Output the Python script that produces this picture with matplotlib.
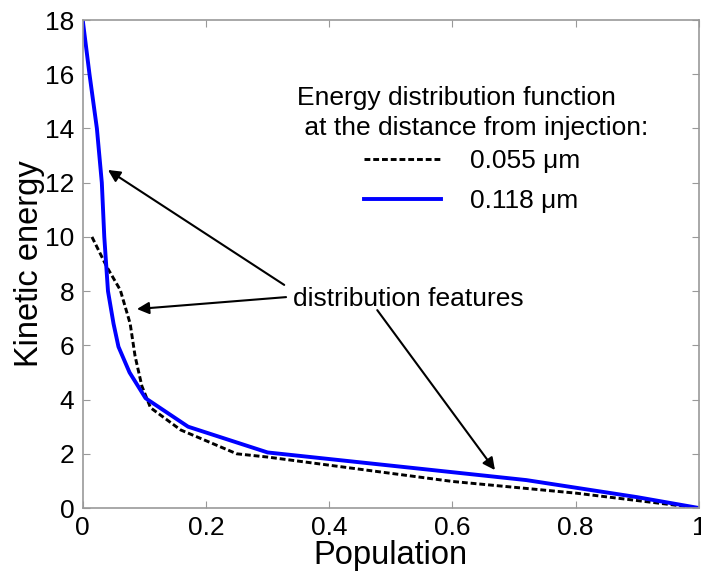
import matplotlib
matplotlib.use("Agg")
import matplotlib.pyplot as plt

plt.rcParams['font.family'] = ['Liberation Sans', 'DejaVu Sans']

# Data
pop_055 = [0.015, 0.039, 0.061, 0.077, 0.085, 0.096, 0.11, 0.159, 0.25, 0.30, 0.60, 0.80, 1.0]
ene_055 = [10.0, 8.9, 8.04, 6.8, 5.6, 4.5, 3.7, 2.88, 2.0, 1.88, 0.98, 0.55, 0.0]

pop_118 = [0.0, 0.011, 0.023, 0.031, 0.035, 0.041, 0.05, 0.058, 0.076, 0.102, 0.171, 0.30, 0.72, 0.90, 1.0]
ene_118 = [18.0, 16.0, 14.0, 12.0, 10.0, 8.0, 6.8, 5.95, 5.0, 4.05, 3.0, 2.05, 1.03, 0.4, 0.0]

label_055 = "0.055 \u03bcm"
label_118 = "0.118 \u03bcm"
legend_title = "Energy distribution function\n at the distance from injection:"
feature_text = "distribution features"
# arrow heads (data coords) and tails
arrow_heads = [(0.041, 12.47), (0.088, 7.34), (0.669, 1.40)]
arrow_tails = [(0.327, 8.23), (0.33, 7.78), (0.478, 7.30)]
text_pos = (0.342, 7.7)

xticks = [0, 0.2, 0.4, 0.6, 0.8, 1]
xticklabels = ["0", "0.2", "0.4", "0.6", "0.8", "1"]
yticks = [0, 2, 4, 6, 8, 10, 12, 14, 16, 18]

fig = plt.figure(figsize=(7.01, 5.73), dpi=100)
ax = fig.add_axes([0.118, 0.1134, 0.879, 0.8516])

l1, = ax.plot(pop_055, ene_055, color='black', linestyle=(0, (2.0, 1.0)), linewidth=2.1, label=label_055)
l2, = ax.plot(pop_118, ene_118, color='#0000ff', linewidth=2.8, label=label_118)

ax.set_xlim(0, 1)
ax.set_ylim(0, 18)
ax.set_xticks(xticks)
ax.set_xticklabels(xticklabels)
ax.set_yticks(yticks)
ax.tick_params(direction='in', top=True, right=True, labelsize=19, length=5, color='#999999', pad=6)
for s in ax.spines.values():
    s.set_color('#999999')
    s.set_linewidth(1.2)

ax.set_xlabel("Population", fontsize=23.5, labelpad=0)
ax.set_ylabel("Kinetic energy", fontsize=23.5, labelpad=0)

for head, tail in zip(arrow_heads, arrow_tails):
    ax.annotate("", xy=head, xytext=tail,
                arrowprops=dict(arrowstyle='-|>', color='black', lw=1.5,
                                mutation_scale=18, shrinkA=0, shrinkB=0))
ax.text(text_pos[0], text_pos[1], feature_text, fontsize=19, va='center', ha='left')

ax.text(0.3475, 0.864, legend_title, transform=ax.transAxes, fontsize=19,
        va='top', ha='left', linespacing=1.3)
leg = ax.legend(handles=[l1, l2], loc='upper left', bbox_to_anchor=(0.44, 0.757),
                frameon=False, fontsize=19, handlelength=2.9, handletextpad=1.1,
                labelspacing=0.6, borderaxespad=0)

fig.savefig("out.png", dpi=100)
